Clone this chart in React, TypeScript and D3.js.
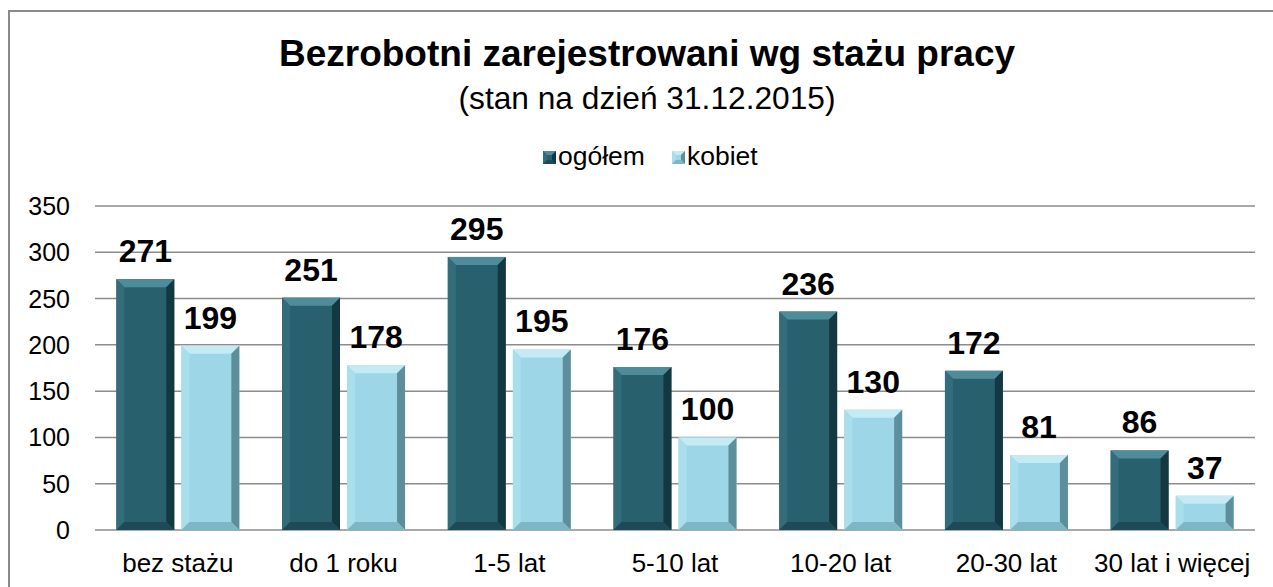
import React from "react";
import * as d3 from "d3";

const categories = ["bez stażu", "do 1 roku", "1-5 lat", "5-10 lat", "10-20 lat", "20-30 lat", "30 lat i więcej"];
const seriesNames = ["ogółem", "kobiet"];
const ogolem = [271, 251, 295, 176, 236, 172, 86];
const kobiet = [199, 178, 195, 100, 130, 81, 37];
const yTicks = [0, 50, 100, 150, 200, 250, 300, 350];

const W = 1273;
const H = 587;
const left = 95;
const right = 1255;
const top = 206;
const bottom = 530;

const palettes = [
  { main: "#29606e", top: "#4f8c9a", left: "#336c7a", right: "#143842", bottom: "#1d4a56" },
  { main: "#9dd7e7", top: "#c4ebf4", left: "#a9deec", right: "#5c8e9b", bottom: "#7fb6c5" },
];

function BevelRect({ x, y, w, h, p, bev = 8 }: { x: number; y: number; w: number; h: number; p: any; bev?: number }) {
  const b = Math.min(bev, w / 2, h / 2);
  const x2 = x + w, y2 = y + h;
  const pts = (a: number[][]) => a.map((q) => q.join(",")).join(" ");
  return (
    <g>
      <rect x={x} y={y} width={w} height={h} fill={p.main} />
      <polygon points={pts([[x, y], [x2, y], [x2 - b, y + b], [x + b, y + b]])} fill={p.top} />
      <polygon points={pts([[x, y], [x + b, y + b], [x + b, y2 - b], [x, y2]])} fill={p.left} />
      <polygon points={pts([[x2, y], [x2, y2], [x2 - b, y2 - b], [x2 - b, y + b]])} fill={p.right} />
      <polygon points={pts([[x, y2], [x + b, y2 - b], [x2 - b, y2 - b], [x2, y2]])} fill={p.bottom} />
    </g>
  );
}

export default function App() {
  const x = d3.scaleBand<string>().domain(categories).range([left, right]).paddingInner(0.258).paddingOuter(0.129);
  const y = d3.scaleLinear().domain([0, 350]).range([bottom, top]);
  const sub = d3.scaleBand<string>().domain(seriesNames).range([0, x.bandwidth()]).paddingInner(0.11);
  const series = [ogolem, kobiet];
  const font = "'Liberation Sans', Arial, sans-serif";

  return (
    <svg width={W} height={H} style={{ position: "absolute", left: 0, top: 0 }} fontFamily={font}>
      <rect x={0} y={0} width={W} height={H} fill="#fff" />
      <path d={`M9,${H} L9,11 L${W},11`} fill="none" stroke="#8a8a8a" strokeWidth={2} />
      <text x={647} y={66} textAnchor="middle" fontSize={37} fontWeight="bold" fill="#000">
        Bezrobotni zarejestrowani wg stażu pracy
      </text>
      <text x={647} y={109} textAnchor="middle" fontSize={31.7} fill="#000">
        (stan na dzień 31.12.2015)
      </text>
      {/* legend */}
      {seriesNames.map((s, i) => {
        const lx = i === 0 ? 543 : 672;
        return (
          <g key={s}>
            <BevelRect x={lx} y={151} w={13} h={13} p={palettes[i]} bev={4} />
            <text x={lx + 15} y={165} fontSize={26.5} fill="#000">{s}</text>
          </g>
        );
      })}
      {/* grid */}
      {yTicks.map((t) => (
        <g key={t}>
          <line x1={left} x2={right} y1={y(t)} y2={y(t)} stroke="#8c8c8c" strokeWidth={1.5} />
          <text x={70} y={y(t) + 9} textAnchor="end" fontSize={25} fill="#000">{t}</text>
        </g>
      ))}
      {/* bars */}
      {categories.map((c, ci) => (
        <g key={c}>
          {series.map((vals, si) => {
            const bx = (x(c) as number) + (sub(seriesNames[si]) as number);
            const bw = sub.bandwidth();
            const by = y(vals[ci]);
            return (
              <g key={si}>
                <BevelRect x={bx} y={by} w={bw} h={bottom - by} p={palettes[si]} />
                <text x={bx + bw / 2} y={by - 17} textAnchor="middle" fontSize={32} fontWeight="bold" fill="#000">
                  {vals[ci]}
                </text>
              </g>
            );
          })}
          <text x={(x(c) as number) + x.bandwidth() / 2} y={572} textAnchor="middle" fontSize={26} fill="#000">
            {c}
          </text>
        </g>
      ))}
    </svg>
  );
}
